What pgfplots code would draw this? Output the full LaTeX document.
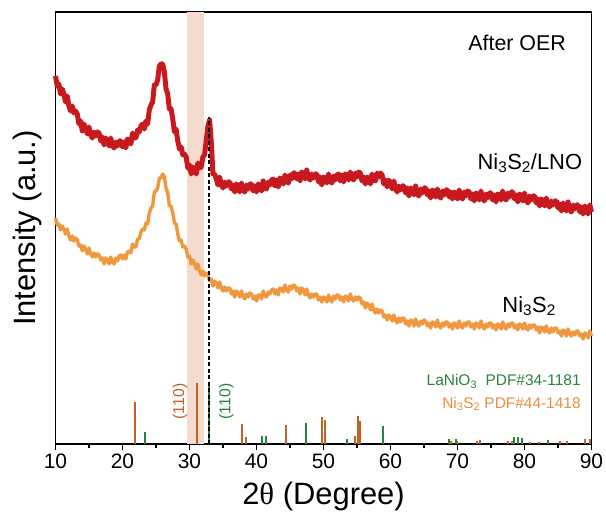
\documentclass[border=0pt]{standalone}
\usepackage{fontspec}
\setmainfont{Liberation Sans}
\newfontfamily\serifgr{Liberation Serif}
\usepackage{pgfplots}
\pgfplotsset{compat=1.18}
\definecolor{cred}{RGB}{200,26,30}
\definecolor{corange}{RGB}{240,152,64}
\definecolor{cbrown}{RGB}{192,98,42}
\definecolor{cgreen}{RGB}{42,130,62}
\definecolor{cpeach}{RGB}{245,218,206}
\definecolor{ctext}{RGB}{234,142,62}
\begin{document}
\begin{tikzpicture}
\begin{axis}[
  at={(0,0)}, anchor=south west,
  scale only axis, width=536bp, height=432bp,
  xmin=10, xmax=90, ymin=0, ymax=432,
  axis line style={line width=1.5bp},
  xtick={10,20,...,90}, minor x tick num=1,
  ytick=\empty,
  xtick pos=lower,
  tick align=outside,
  major tick length=6bp, minor tick length=4bp,
  tick style={line width=1.3bp, black},
  /pgf/number format/assume math mode=true,
  xticklabel style={font=\fontsize{21}{25}\selectfont},
  xlabel={2{\serifgr θ} (Degree)},
  xlabel style={font=\fontsize{31}{36}\selectfont, at={(axis description cs:0.5,-0.1227)}, anchor=center},
  ylabel={Intensity (a.u.)},
  ylabel style={font=\fontsize{31}{36}\selectfont, at={(axis description cs:-0.0522,0.5)}, anchor=center},
  clip=false,
]
\fill[cpeach] (axis cs:29.7,0) rectangle (axis cs:32.15,432);
% Ni3S2 curve
\addplot[corange, line width=3.4bp, line join=round] table[row sep=\\, header=false, x expr=10+0.25*\coordindex, y index=0] {
226\\219\\220\\214\\218\\215\\210\\215\\208\\204\\208\\203\\206\\204\\198\\199\\193\\198\\195\\190\\
196\\190\\187\\191\\187\\190\\189\\184\\186\\180\\186\\184\\180\\187\\182\\180\\186\\183\\188\\189\\
185\\189\\185\\192\\193\\191\\200\\197\\197\\205\\205\\212\\215\\214\\221\\220\\231\\236\\238\\252\\
253\\256\\266\\266\\270\\267\\256\\251\\238\\238\\231\\221\\220\\210\\203\\204\\197\\198\\195\\187\\
188\\180\\184\\181\\175\\180\\173\\169\\173\\168\\171\\169\\163\\165\\158\\163\\161\\156\\162\\156\\
153\\157\\153\\156\\156\\150\\153\\147\\153\\151\\147\\153\\148\\145\\150\\147\\151\\150\\145\\148\\
143\\149\\149\\145\\153\\148\\147\\152\\150\\154\\155\\150\\154\\149\\156\\155\\152\\159\\154\\152\\
158\\155\\159\\158\\153\\156\\150\\156\\154\\149\\155\\149\\146\\150\\147\\150\\150\\144\\147\\142\\
147\\146\\142\\149\\144\\142\\148\\145\\149\\149\\144\\147\\142\\148\\147\\143\\150\\145\\143\\147\\
144\\147\\146\\140\\142\\136\\141\\139\\134\\140\\134\\131\\135\\131\\134\\133\\127\\129\\124\\129\\
127\\123\\129\\124\\121\\126\\122\\126\\126\\120\\123\\118\\124\\123\\118\\125\\120\\118\\123\\120\\
124\\123\\118\\121\\116\\122\\121\\117\\124\\118\\116\\121\\118\\122\\122\\117\\120\\115\\121\\120\\
116\\123\\118\\116\\121\\118\\122\\122\\117\\120\\115\\121\\120\\116\\123\\118\\115\\120\\117\\121\\
121\\116\\119\\114\\120\\119\\115\\122\\117\\115\\120\\117\\121\\121\\116\\119\\114\\120\\119\\115\\
121\\116\\114\\119\\116\\119\\119\\114\\117\\111\\117\\116\\112\\118\\113\\111\\116\\112\\116\\116\\
111\\113\\108\\114\\113\\108\\115\\110\\108\\112\\109\\113\\113\\108\\110\\105\\111\\110\\106\\113\\
108\\
};
% Ni3S2/LNO curve
\addplot[cred, line width=5bp, line join=round] table[row sep=\\, header=false, x expr=10+0.25*\coordindex, y index=0] {
368\\358\\360\\350\\355\\350\\342\\348\\338\\333\\338\\331\\333\\330\\320\\323\\313\\320\\316\\310\\
317\\309\\306\\312\\308\\312\\311\\303\\307\\299\\306\\303\\298\\306\\298\\296\\302\\298\\303\\303\\
297\\302\\296\\305\\304\\300\\311\\306\\306\\314\\312\\318\\320\\315\\323\\320\\334\\339\\342\\359\\
359\\364\\378\\380\\380\\372\\355\\350\\335\\335\\325\\312\\315\\303\\295\\297\\289\\290\\287\\276\\
279\\270\\277\\274\\270\\281\\276\\277\\287\\289\\304\\318\\324\\302\\270\\270\\265\\259\\267\\259\\
256\\262\\258\\262\\262\\255\\259\\252\\260\\258\\252\\261\\254\\252\\259\\255\\260\\260\\253\\258\\
252\\260\\258\\253\\263\\256\\255\\262\\259\\264\\265\\258\\264\\257\\266\\264\\260\\269\\263\\261\\
269\\265\\271\\271\\265\\270\\263\\272\\270\\265\\274\\266\\264\\270\\266\\270\\270\\262\\267\\259\\
267\\265\\261\\270\\263\\261\\268\\264\\269\\270\\263\\269\\262\\270\\269\\264\\272\\266\\264\\271\\
267\\272\\271\\263\\267\\260\\267\\265\\260\\270\\264\\263\\271\\267\\271\\269\\260\\264\\257\\264\\
261\\255\\263\\255\\252\\258\\254\\258\\258\\251\\256\\248\\256\\254\\249\\258\\250\\248\\255\\251\\
256\\256\\249\\253\\246\\254\\252\\247\\255\\248\\246\\253\\249\\254\\254\\247\\252\\245\\252\\250\\
245\\254\\247\\245\\252\\248\\253\\252\\245\\250\\243\\251\\249\\244\\253\\246\\243\\250\\246\\251\\
251\\244\\249\\242\\250\\249\\244\\253\\246\\244\\251\\247\\252\\252\\245\\249\\242\\250\\248\\243\\
251\\244\\241\\248\\244\\248\\248\\241\\245\\238\\245\\243\\238\\246\\239\\237\\243\\239\\243\\243\\
236\\240\\233\\241\\238\\233\\242\\234\\232\\239\\235\\239\\239\\232\\237\\230\\238\\235\\230\\239\\
232\\
};
% Ni3S2 PDF#44-1418
\addplot[ycomb, cbrown, line width=2bp, no marks] coordinates {
(21.87,42) (31.16,61) (37.79,20) (38.39,7) (44.40,19) (49.73,27) (50.22,24)
(54.70,8) (55.22,28) (55.45,23) (69.1,3) (69.9,3) (72.9,3) (73.4,4) (77.5,3) (78.1,3)
(80.8,2) (82.1,2) (85.3,3) (86.3,3) (89.0,5) (89.8,5)
};
% LaNiO3 PDF#34-1181
\addplot[ycomb, cgreen, line width=2bp, no marks] coordinates {
(23.36,12) (32.96,61) (40.87,8) (41.37,8) (47.39,21) (53.46,5) (58.84,18)
(68.73,5) (69.78,5) (78.43,7) (79.03,7) (79.63,6) (83.51,4)
};
\addplot[black, line width=2.3bp, dash pattern=on 4bp off 2.5bp] coordinates {(32.95,0) (32.95,327)};
\node[font=\fontsize{21.5}{25}\selectfont] at (axis cs:78.9,401) {After OER};
\node[font=\fontsize{22}{26}\selectfont] at (axis cs:80.8,281) {Ni\textsubscript{3}S\textsubscript{2}/LNO};
\node[font=\fontsize{22}{26}\selectfont] at (axis cs:80.7,138) {Ni\textsubscript{3}S\textsubscript{2}};
\node[cgreen, anchor=east, font=\fontsize{15.5}{18}\selectfont] at (axis cs:88.9,62.5) {LaNiO\textsubscript{3}\ \ PDF\#34-1181};
\node[ctext, anchor=east, font=\fontsize{15.5}{18}\selectfont] at (axis cs:88.9,40) {Ni\textsubscript{3}S\textsubscript{2} PDF\#44-1418};
\node[cbrown, rotate=90, font=\fontsize{15.8}{18}\selectfont] at (axis cs:28.58,42.5) {(110)};
\node[cgreen, rotate=90, font=\fontsize{15.8}{18}\selectfont] at (axis cs:35.5,42.5) {(110)};
\end{axis}
\pgfresetboundingbox
\path[use as bounding box] (-55.5bp,-71bp) rectangle (550.5bp,444bp);
\end{tikzpicture}
\end{document}
